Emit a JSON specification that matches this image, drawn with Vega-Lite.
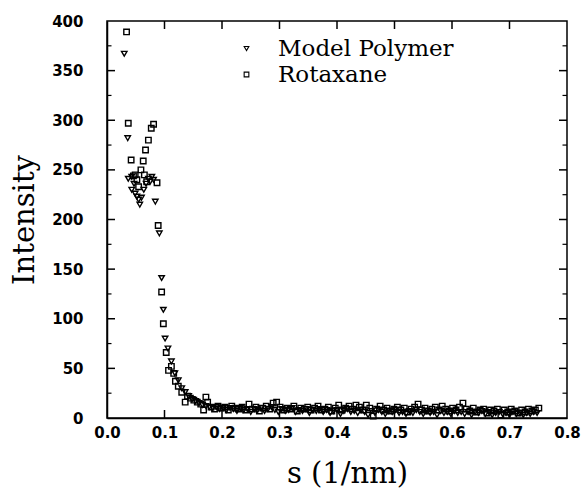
{
  "$schema": "https://vega.github.io/schema/vega-lite/v6.json",
  "width": 460,
  "height": 397,
  "autosize": "none",
  "padding": {"left": 107, "top": 21, "right": 20, "bottom": 78},
  "background": "white",
  "config": {
    "view": {"stroke": "black", "strokeWidth": 1.5},
    "axis": {
      "domainColor": "black", "domainWidth": 1.5,
      "ticks": false,
      "grid": false,
      "labelFont": "DejaVu Sans", "labelFontWeight": "bold", "labelFontSize": 15, "labelColor": "black",
      "titleFont": "DejaVu Serif", "titleFontWeight": "normal", "titleFontSize": 29, "titleColor": "black"
    }
  },
  "datasets": {
    "pts": [
      {"s": 0.030, "I": 367, "series": "Model Polymer"},
      {"s": 0.036, "I": 282, "series": "Model Polymer"},
      {"s": 0.037, "I": 241, "series": "Model Polymer"},
      {"s": 0.043, "I": 243, "series": "Model Polymer"},
      {"s": 0.043, "I": 230, "series": "Model Polymer"},
      {"s": 0.047, "I": 236, "series": "Model Polymer"},
      {"s": 0.049, "I": 226, "series": "Model Polymer"},
      {"s": 0.052, "I": 223, "series": "Model Polymer"},
      {"s": 0.055, "I": 220, "series": "Model Polymer"},
      {"s": 0.057, "I": 215, "series": "Model Polymer"},
      {"s": 0.060, "I": 222, "series": "Model Polymer"},
      {"s": 0.064, "I": 230, "series": "Model Polymer"},
      {"s": 0.068, "I": 236, "series": "Model Polymer"},
      {"s": 0.072, "I": 241, "series": "Model Polymer"},
      {"s": 0.075, "I": 238, "series": "Model Polymer"},
      {"s": 0.078, "I": 243, "series": "Model Polymer"},
      {"s": 0.081, "I": 240, "series": "Model Polymer"},
      {"s": 0.084, "I": 218, "series": "Model Polymer"},
      {"s": 0.091, "I": 186, "series": "Model Polymer"},
      {"s": 0.095, "I": 141, "series": "Model Polymer"},
      {"s": 0.098, "I": 109, "series": "Model Polymer"},
      {"s": 0.101, "I": 80, "series": "Model Polymer"},
      {"s": 0.106, "I": 70, "series": "Model Polymer"},
      {"s": 0.112, "I": 57, "series": "Model Polymer"},
      {"s": 0.118, "I": 45, "series": "Model Polymer"},
      {"s": 0.124, "I": 38, "series": "Model Polymer"},
      {"s": 0.130, "I": 30, "series": "Model Polymer"},
      {"s": 0.136, "I": 26, "series": "Model Polymer"},
      {"s": 0.142, "I": 22, "series": "Model Polymer"},
      {"s": 0.148, "I": 19, "series": "Model Polymer"},
      {"s": 0.154, "I": 17, "series": "Model Polymer"},
      {"s": 0.160, "I": 15, "series": "Model Polymer"},
      {"s": 0.166, "I": 13, "series": "Model Polymer"},
      {"s": 0.172, "I": 12, "series": "Model Polymer"},
      {"s": 0.178, "I": 11, "series": "Model Polymer"},
      {"s": 0.184, "I": 10, "series": "Model Polymer"},
      {"s": 0.190, "I": 11, "series": "Model Polymer"},
      {"s": 0.196, "I": 9, "series": "Model Polymer"},
      {"s": 0.202, "I": 10, "series": "Model Polymer"},
      {"s": 0.208, "I": 8, "series": "Model Polymer"},
      {"s": 0.214, "I": 10, "series": "Model Polymer"},
      {"s": 0.220, "I": 9, "series": "Model Polymer"},
      {"s": 0.226, "I": 7, "series": "Model Polymer"},
      {"s": 0.232, "I": 10, "series": "Model Polymer"},
      {"s": 0.238, "I": 8, "series": "Model Polymer"},
      {"s": 0.244, "I": 9, "series": "Model Polymer"},
      {"s": 0.250, "I": 6, "series": "Model Polymer"},
      {"s": 0.256, "I": 9, "series": "Model Polymer"},
      {"s": 0.262, "I": 8, "series": "Model Polymer"},
      {"s": 0.268, "I": 10, "series": "Model Polymer"},
      {"s": 0.274, "I": 7, "series": "Model Polymer"},
      {"s": 0.280, "I": 9, "series": "Model Polymer"},
      {"s": 0.286, "I": 11, "series": "Model Polymer"},
      {"s": 0.292, "I": 8, "series": "Model Polymer"},
      {"s": 0.298, "I": 6, "series": "Model Polymer"},
      {"s": 0.304, "I": 9, "series": "Model Polymer"},
      {"s": 0.310, "I": 7, "series": "Model Polymer"},
      {"s": 0.316, "I": 8, "series": "Model Polymer"},
      {"s": 0.322, "I": 10, "series": "Model Polymer"},
      {"s": 0.328, "I": 6, "series": "Model Polymer"},
      {"s": 0.334, "I": 8, "series": "Model Polymer"},
      {"s": 0.340, "I": 7, "series": "Model Polymer"},
      {"s": 0.346, "I": 9, "series": "Model Polymer"},
      {"s": 0.352, "I": 5, "series": "Model Polymer"},
      {"s": 0.358, "I": 8, "series": "Model Polymer"},
      {"s": 0.364, "I": 7, "series": "Model Polymer"},
      {"s": 0.370, "I": 9, "series": "Model Polymer"},
      {"s": 0.376, "I": 6, "series": "Model Polymer"},
      {"s": 0.382, "I": 8, "series": "Model Polymer"},
      {"s": 0.388, "I": 5, "series": "Model Polymer"},
      {"s": 0.394, "I": 7, "series": "Model Polymer"},
      {"s": 0.400, "I": 8, "series": "Model Polymer"},
      {"s": 0.406, "I": 4, "series": "Model Polymer"},
      {"s": 0.412, "I": 7, "series": "Model Polymer"},
      {"s": 0.418, "I": 9, "series": "Model Polymer"},
      {"s": 0.424, "I": 6, "series": "Model Polymer"},
      {"s": 0.430, "I": 7, "series": "Model Polymer"},
      {"s": 0.436, "I": 5, "series": "Model Polymer"},
      {"s": 0.442, "I": 8, "series": "Model Polymer"},
      {"s": 0.448, "I": 6, "series": "Model Polymer"},
      {"s": 0.454, "I": 3, "series": "Model Polymer"},
      {"s": 0.460, "I": 7, "series": "Model Polymer"},
      {"s": 0.466, "I": 5, "series": "Model Polymer"},
      {"s": 0.472, "I": 8, "series": "Model Polymer"},
      {"s": 0.478, "I": 6, "series": "Model Polymer"},
      {"s": 0.484, "I": 4, "series": "Model Polymer"},
      {"s": 0.490, "I": 7, "series": "Model Polymer"},
      {"s": 0.496, "I": 6, "series": "Model Polymer"},
      {"s": 0.502, "I": 8, "series": "Model Polymer"},
      {"s": 0.508, "I": 5, "series": "Model Polymer"},
      {"s": 0.514, "I": 6, "series": "Model Polymer"},
      {"s": 0.520, "I": 4, "series": "Model Polymer"},
      {"s": 0.526, "I": 7, "series": "Model Polymer"},
      {"s": 0.532, "I": 5, "series": "Model Polymer"},
      {"s": 0.538, "I": 8, "series": "Model Polymer"},
      {"s": 0.544, "I": 6, "series": "Model Polymer"},
      {"s": 0.550, "I": 4, "series": "Model Polymer"},
      {"s": 0.556, "I": 7, "series": "Model Polymer"},
      {"s": 0.562, "I": 5, "series": "Model Polymer"},
      {"s": 0.568, "I": 6, "series": "Model Polymer"},
      {"s": 0.574, "I": 3, "series": "Model Polymer"},
      {"s": 0.580, "I": 7, "series": "Model Polymer"},
      {"s": 0.586, "I": 5, "series": "Model Polymer"},
      {"s": 0.592, "I": 6, "series": "Model Polymer"},
      {"s": 0.598, "I": 4, "series": "Model Polymer"},
      {"s": 0.604, "I": 7, "series": "Model Polymer"},
      {"s": 0.610, "I": 5, "series": "Model Polymer"},
      {"s": 0.616, "I": 6, "series": "Model Polymer"},
      {"s": 0.622, "I": 4, "series": "Model Polymer"},
      {"s": 0.628, "I": 6, "series": "Model Polymer"},
      {"s": 0.634, "I": 3, "series": "Model Polymer"},
      {"s": 0.640, "I": 6, "series": "Model Polymer"},
      {"s": 0.646, "I": 5, "series": "Model Polymer"},
      {"s": 0.652, "I": 7, "series": "Model Polymer"},
      {"s": 0.658, "I": 4, "series": "Model Polymer"},
      {"s": 0.664, "I": 6, "series": "Model Polymer"},
      {"s": 0.670, "I": 3, "series": "Model Polymer"},
      {"s": 0.676, "I": 5, "series": "Model Polymer"},
      {"s": 0.682, "I": 6, "series": "Model Polymer"},
      {"s": 0.688, "I": 4, "series": "Model Polymer"},
      {"s": 0.694, "I": 5, "series": "Model Polymer"},
      {"s": 0.700, "I": 3, "series": "Model Polymer"},
      {"s": 0.706, "I": 6, "series": "Model Polymer"},
      {"s": 0.712, "I": 4, "series": "Model Polymer"},
      {"s": 0.718, "I": 5, "series": "Model Polymer"},
      {"s": 0.724, "I": 3, "series": "Model Polymer"},
      {"s": 0.730, "I": 5, "series": "Model Polymer"},
      {"s": 0.736, "I": 4, "series": "Model Polymer"},
      {"s": 0.742, "I": 6, "series": "Model Polymer"},
      {"s": 0.748, "I": 5, "series": "Model Polymer"},
      {"s": 0.034, "I": 389, "series": "Rotaxane"},
      {"s": 0.037, "I": 297, "series": "Rotaxane"},
      {"s": 0.042, "I": 260, "series": "Rotaxane"},
      {"s": 0.046, "I": 244, "series": "Rotaxane"},
      {"s": 0.049, "I": 245, "series": "Rotaxane"},
      {"s": 0.052, "I": 240, "series": "Rotaxane"},
      {"s": 0.055, "I": 233, "series": "Rotaxane"},
      {"s": 0.059, "I": 250, "series": "Rotaxane"},
      {"s": 0.063, "I": 259, "series": "Rotaxane"},
      {"s": 0.065, "I": 245, "series": "Rotaxane"},
      {"s": 0.067, "I": 270, "series": "Rotaxane"},
      {"s": 0.069, "I": 238, "series": "Rotaxane"},
      {"s": 0.072, "I": 280, "series": "Rotaxane"},
      {"s": 0.077, "I": 292, "series": "Rotaxane"},
      {"s": 0.081, "I": 296, "series": "Rotaxane"},
      {"s": 0.087, "I": 237, "series": "Rotaxane"},
      {"s": 0.089, "I": 194, "series": "Rotaxane"},
      {"s": 0.095, "I": 127, "series": "Rotaxane"},
      {"s": 0.098, "I": 95, "series": "Rotaxane"},
      {"s": 0.103, "I": 66, "series": "Rotaxane"},
      {"s": 0.107, "I": 48, "series": "Rotaxane"},
      {"s": 0.112, "I": 52, "series": "Rotaxane"},
      {"s": 0.116, "I": 45, "series": "Rotaxane"},
      {"s": 0.119, "I": 37, "series": "Rotaxane"},
      {"s": 0.124, "I": 32, "series": "Rotaxane"},
      {"s": 0.130, "I": 26, "series": "Rotaxane"},
      {"s": 0.136, "I": 16, "series": "Rotaxane"},
      {"s": 0.140, "I": 22, "series": "Rotaxane"},
      {"s": 0.145, "I": 20, "series": "Rotaxane"},
      {"s": 0.151, "I": 18, "series": "Rotaxane"},
      {"s": 0.157, "I": 16, "series": "Rotaxane"},
      {"s": 0.163, "I": 14, "series": "Rotaxane"},
      {"s": 0.168, "I": 8, "series": "Rotaxane"},
      {"s": 0.172, "I": 21, "series": "Rotaxane"},
      {"s": 0.175, "I": 16, "series": "Rotaxane"},
      {"s": 0.181, "I": 11, "series": "Rotaxane"},
      {"s": 0.187, "I": 9, "series": "Rotaxane"},
      {"s": 0.193, "I": 12, "series": "Rotaxane"},
      {"s": 0.199, "I": 10, "series": "Rotaxane"},
      {"s": 0.205, "I": 11, "series": "Rotaxane"},
      {"s": 0.211, "I": 8, "series": "Rotaxane"},
      {"s": 0.217, "I": 12, "series": "Rotaxane"},
      {"s": 0.223, "I": 10, "series": "Rotaxane"},
      {"s": 0.229, "I": 9, "series": "Rotaxane"},
      {"s": 0.235, "I": 11, "series": "Rotaxane"},
      {"s": 0.241, "I": 8, "series": "Rotaxane"},
      {"s": 0.247, "I": 14, "series": "Rotaxane"},
      {"s": 0.253, "I": 9, "series": "Rotaxane"},
      {"s": 0.259, "I": 11, "series": "Rotaxane"},
      {"s": 0.265, "I": 7, "series": "Rotaxane"},
      {"s": 0.271, "I": 10, "series": "Rotaxane"},
      {"s": 0.277, "I": 12, "series": "Rotaxane"},
      {"s": 0.283, "I": 9, "series": "Rotaxane"},
      {"s": 0.289, "I": 15, "series": "Rotaxane"},
      {"s": 0.295, "I": 16, "series": "Rotaxane"},
      {"s": 0.301, "I": 11, "series": "Rotaxane"},
      {"s": 0.307, "I": 8, "series": "Rotaxane"},
      {"s": 0.313, "I": 10, "series": "Rotaxane"},
      {"s": 0.319, "I": 9, "series": "Rotaxane"},
      {"s": 0.325, "I": 12, "series": "Rotaxane"},
      {"s": 0.331, "I": 7, "series": "Rotaxane"},
      {"s": 0.337, "I": 10, "series": "Rotaxane"},
      {"s": 0.343, "I": 9, "series": "Rotaxane"},
      {"s": 0.349, "I": 11, "series": "Rotaxane"},
      {"s": 0.355, "I": 8, "series": "Rotaxane"},
      {"s": 0.361, "I": 10, "series": "Rotaxane"},
      {"s": 0.367, "I": 12, "series": "Rotaxane"},
      {"s": 0.373, "I": 8, "series": "Rotaxane"},
      {"s": 0.379, "I": 9, "series": "Rotaxane"},
      {"s": 0.385, "I": 11, "series": "Rotaxane"},
      {"s": 0.391, "I": 7, "series": "Rotaxane"},
      {"s": 0.397, "I": 10, "series": "Rotaxane"},
      {"s": 0.403, "I": 13, "series": "Rotaxane"},
      {"s": 0.409, "I": 8, "series": "Rotaxane"},
      {"s": 0.415, "I": 10, "series": "Rotaxane"},
      {"s": 0.421, "I": 12, "series": "Rotaxane"},
      {"s": 0.427, "I": 9, "series": "Rotaxane"},
      {"s": 0.433, "I": 13, "series": "Rotaxane"},
      {"s": 0.439, "I": 11, "series": "Rotaxane"},
      {"s": 0.445, "I": 8, "series": "Rotaxane"},
      {"s": 0.451, "I": 13, "series": "Rotaxane"},
      {"s": 0.457, "I": 10, "series": "Rotaxane"},
      {"s": 0.463, "I": 2, "series": "Rotaxane"},
      {"s": 0.469, "I": 9, "series": "Rotaxane"},
      {"s": 0.475, "I": 12, "series": "Rotaxane"},
      {"s": 0.481, "I": 8, "series": "Rotaxane"},
      {"s": 0.487, "I": 10, "series": "Rotaxane"},
      {"s": 0.493, "I": 7, "series": "Rotaxane"},
      {"s": 0.499, "I": 9, "series": "Rotaxane"},
      {"s": 0.505, "I": 11, "series": "Rotaxane"},
      {"s": 0.511, "I": 8, "series": "Rotaxane"},
      {"s": 0.517, "I": 10, "series": "Rotaxane"},
      {"s": 0.523, "I": 6, "series": "Rotaxane"},
      {"s": 0.529, "I": 9, "series": "Rotaxane"},
      {"s": 0.535, "I": 11, "series": "Rotaxane"},
      {"s": 0.541, "I": 14, "series": "Rotaxane"},
      {"s": 0.547, "I": 8, "series": "Rotaxane"},
      {"s": 0.553, "I": 10, "series": "Rotaxane"},
      {"s": 0.559, "I": 7, "series": "Rotaxane"},
      {"s": 0.565, "I": 9, "series": "Rotaxane"},
      {"s": 0.571, "I": 11, "series": "Rotaxane"},
      {"s": 0.577, "I": 8, "series": "Rotaxane"},
      {"s": 0.583, "I": 12, "series": "Rotaxane"},
      {"s": 0.589, "I": 9, "series": "Rotaxane"},
      {"s": 0.595, "I": 7, "series": "Rotaxane"},
      {"s": 0.601, "I": 10, "series": "Rotaxane"},
      {"s": 0.607, "I": 8, "series": "Rotaxane"},
      {"s": 0.613, "I": 11, "series": "Rotaxane"},
      {"s": 0.619, "I": 15, "series": "Rotaxane"},
      {"s": 0.625, "I": 9, "series": "Rotaxane"},
      {"s": 0.631, "I": 7, "series": "Rotaxane"},
      {"s": 0.637, "I": 10, "series": "Rotaxane"},
      {"s": 0.643, "I": 6, "series": "Rotaxane"},
      {"s": 0.649, "I": 8, "series": "Rotaxane"},
      {"s": 0.655, "I": 9, "series": "Rotaxane"},
      {"s": 0.661, "I": 5, "series": "Rotaxane"},
      {"s": 0.667, "I": 8, "series": "Rotaxane"},
      {"s": 0.673, "I": 7, "series": "Rotaxane"},
      {"s": 0.679, "I": 9, "series": "Rotaxane"},
      {"s": 0.685, "I": 3, "series": "Rotaxane"},
      {"s": 0.691, "I": 8, "series": "Rotaxane"},
      {"s": 0.697, "I": 6, "series": "Rotaxane"},
      {"s": 0.703, "I": 9, "series": "Rotaxane"},
      {"s": 0.709, "I": 7, "series": "Rotaxane"},
      {"s": 0.715, "I": 5, "series": "Rotaxane"},
      {"s": 0.721, "I": 8, "series": "Rotaxane"},
      {"s": 0.727, "I": 6, "series": "Rotaxane"},
      {"s": 0.733, "I": 9, "series": "Rotaxane"},
      {"s": 0.739, "I": 7, "series": "Rotaxane"},
      {"s": 0.745, "I": 8, "series": "Rotaxane"},
      {"s": 0.751, "I": 10, "series": "Rotaxane"}
    ],
    "xticks": [
      {"s": 0.1, "I": 0}, {"s": 0.2, "I": 0}, {"s": 0.3, "I": 0}, {"s": 0.4, "I": 0}, {"s": 0.5, "I": 0}, {"s": 0.6, "I": 0}, {"s": 0.7, "I": 0},
      {"s": 0.1, "I": 400}, {"s": 0.2, "I": 400}, {"s": 0.3, "I": 400}, {"s": 0.4, "I": 400}, {"s": 0.5, "I": 400}, {"s": 0.6, "I": 400}, {"s": 0.7, "I": 400}
    ],
    "ymajor": [
      {"s": 0, "I": 50}, {"s": 0, "I": 100}, {"s": 0, "I": 150}, {"s": 0, "I": 200}, {"s": 0, "I": 250}, {"s": 0, "I": 300}, {"s": 0, "I": 350},
      {"s": 0.8, "I": 50}, {"s": 0.8, "I": 100}, {"s": 0.8, "I": 150}, {"s": 0.8, "I": 200}, {"s": 0.8, "I": 250}, {"s": 0.8, "I": 300}, {"s": 0.8, "I": 350}
    ],
    "yminor": [
      {"s": 0, "I": 25}, {"s": 0, "I": 75}, {"s": 0, "I": 125}, {"s": 0, "I": 175}, {"s": 0, "I": 225}, {"s": 0, "I": 275}, {"s": 0, "I": 325}, {"s": 0, "I": 375},
      {"s": 0.8, "I": 25}, {"s": 0.8, "I": 75}, {"s": 0.8, "I": 125}, {"s": 0.8, "I": 175}, {"s": 0.8, "I": 225}, {"s": 0.8, "I": 275}, {"s": 0.8, "I": 325}, {"s": 0.8, "I": 375}
    ]
  },
  "encoding": {
    "x": {
      "field": "s", "type": "quantitative",
      "scale": {"domain": [0, 0.8], "nice": false, "zero": false},
      "axis": {"orient": "bottom", "title": "s (1/nm)", "titleX": 240, "values": [0, 0.1, 0.2, 0.3, 0.4, 0.5, 0.6, 0.7, 0.8], "format": ".1f", "labelPadding": 7, "titlePadding": 19, "labelFlush": false}
    },
    "y": {
      "field": "I", "type": "quantitative",
      "scale": {"domain": [0, 400], "nice": false},
      "axis": {"orient": "left", "title": "Intensity", "values": [0, 50, 100, 150, 200, 250, 300, 350, 400], "labelPadding": 24, "titlePadding": 12, "labelFlush": false}
    }
  },
  "layer": [
    {
      "data": {"name": "xticks"},
      "mark": {"type": "tick", "orient": "vertical", "size": 16, "thickness": 1.5, "color": "black", "opacity": 1, "clip": true}
    },
    {
      "data": {"name": "ymajor"},
      "mark": {"type": "tick", "orient": "horizontal", "size": 16, "thickness": 1.5, "color": "black", "opacity": 1, "clip": true}
    },
    {
      "data": {"name": "yminor"},
      "mark": {"type": "tick", "orient": "horizontal", "size": 9, "thickness": 1.2, "color": "black", "opacity": 1, "clip": true}
    },
    {
      "data": {"name": "pts"},
      "mark": {"type": "point", "filled": false, "color": "black", "strokeWidth": 1.4, "size": 30, "opacity": 1},
      "encoding": {
        "shape": {
          "field": "series", "type": "nominal",
          "scale": {"domain": ["Model Polymer", "Rotaxane"], "range": ["triangle-down", "square"]},
          "legend": {
            "title": null, "orient": "none", "legendX": 128, "legendY": 16,
            "labelFont": "DejaVu Serif", "labelFontSize": 23, "labelColor": "black", "labelLimit": 400,
            "symbolStrokeColor": "black", "symbolFillColor": "transparent", "symbolStrokeWidth": 1.1,
            "symbolSize": 22, "rowPadding": 2, "labelOffset": 20
          }
        }
      }
    }
  ]
}
